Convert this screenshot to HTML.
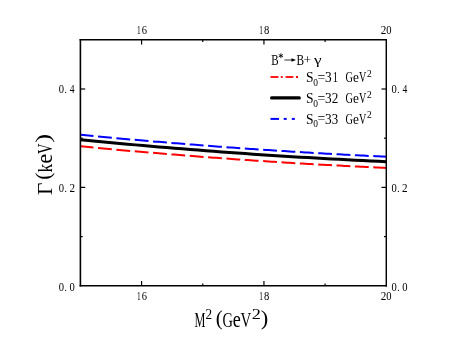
<!DOCTYPE html>
<html><head><meta charset="utf-8"><title>plot</title>
<style>
html,body{margin:0;padding:0;background:#fff;overflow:hidden;}
svg{display:block;will-change:transform;}
text{font-family:"Liberation Serif",serif;}
</style></head>
<body>
<svg width="449" height="343" viewBox="0 0 449 343">
<rect width="449" height="343" fill="#fff"/>
<path d="M81.00,146.37 L83.49,146.61 L85.98,146.84 L88.47,147.08 L90.96,147.32 L93.45,147.55 M98.00,147.98 L100.76,148.24 L103.52,148.49 L106.28,148.75 L109.04,149.00 L111.80,149.26 M116.35,149.67 L119.11,149.92 L121.87,150.17 L124.63,150.41 L127.39,150.66 L130.15,150.90 M134.70,151.30 L137.46,151.54 L140.22,151.78 L142.98,152.02 L145.74,152.25 L148.50,152.49 M153.05,152.87 L155.81,153.11 L158.57,153.34 L161.33,153.57 L164.09,153.79 L166.85,154.02 M171.40,154.39 L174.16,154.61 L176.92,154.84 L179.68,155.06 L182.44,155.28 L185.20,155.49 M189.75,155.85 L192.51,156.07 L195.27,156.28 L198.03,156.49 L200.79,156.70 L203.55,156.91 M208.10,157.25 L210.86,157.46 L213.62,157.66 L216.38,157.87 L219.14,158.07 L221.90,158.27 M226.45,158.60 L229.21,158.80 L231.97,158.99 L234.73,159.19 L237.49,159.38 L240.25,159.57 M244.80,159.89 L247.56,160.08 L250.32,160.27 L253.08,160.45 L255.84,160.64 L258.60,160.82 M263.15,161.12 L265.91,161.30 L268.67,161.48 L271.43,161.66 L274.19,161.83 L276.95,162.01 M281.50,162.30 L284.26,162.47 L287.02,162.64 L289.78,162.81 L292.54,162.97 L295.30,163.14 M299.85,163.41 L302.61,163.58 L305.37,163.74 L308.13,163.90 L310.89,164.06 L313.65,164.22 M318.20,164.47 L320.96,164.63 L323.72,164.78 L326.48,164.93 L329.24,165.09 L332.00,165.23 M336.55,165.48 L339.31,165.62 L342.07,165.77 L344.83,165.91 L347.59,166.05 L350.35,166.20 M354.90,166.43 L357.66,166.56 L360.42,166.70 L363.18,166.83 L365.94,166.97 L368.70,167.10 M373.25,167.32 L375.86,167.44 L378.47,167.56 L381.08,167.68 L383.69,167.80 L386.30,167.91" fill="none" stroke="#ff0000" stroke-width="2.0"/>
<path d="M81.00,134.85 L83.49,135.09 L85.98,135.33 L88.47,135.57 L90.96,135.81 L93.45,136.04 M98.00,136.47 L100.76,136.73 L103.52,136.99 L106.28,137.24 L109.04,137.50 L111.80,137.75 M116.35,138.17 L119.11,138.42 L121.87,138.67 L124.63,138.91 L127.39,139.16 L130.15,139.41 M134.70,139.81 L137.46,140.05 L140.22,140.29 L142.98,140.53 L145.74,140.77 L148.50,141.01 M153.05,141.39 L155.81,141.63 L158.57,141.86 L161.33,142.09 L164.09,142.32 L166.85,142.55 M171.40,142.92 L174.16,143.15 L176.92,143.37 L179.68,143.60 L182.44,143.82 L185.20,144.04 M189.75,144.40 L192.51,144.62 L195.27,144.83 L198.03,145.05 L200.79,145.26 L203.55,145.47 M208.10,145.82 L210.86,146.03 L213.62,146.24 L216.38,146.44 L219.14,146.65 L221.90,146.85 M226.45,147.18 L229.21,147.38 L231.97,147.58 L234.73,147.78 L237.49,147.98 L240.25,148.17 M244.80,148.49 L247.56,148.68 L250.32,148.88 L253.08,149.07 L255.84,149.25 L258.60,149.44 M263.15,149.75 L265.91,149.93 L268.67,150.11 L271.43,150.29 L274.19,150.47 L276.95,150.65 M281.50,150.94 L284.26,151.12 L287.02,151.29 L289.78,151.47 L292.54,151.64 L295.30,151.81 M299.85,152.09 L302.61,152.25 L305.37,152.42 L308.13,152.59 L310.89,152.75 L313.65,152.91 M318.20,153.18 L320.96,153.33 L323.72,153.49 L326.48,153.65 L329.24,153.80 L332.00,153.96 M336.55,154.21 L339.31,154.36 L342.07,154.51 L344.83,154.66 L347.59,154.80 L350.35,154.95 M354.90,155.18 L357.66,155.33 L360.42,155.47 L363.18,155.61 L365.94,155.75 L368.70,155.88 M373.25,156.11 L375.86,156.23 L378.47,156.36 L381.08,156.48 L383.69,156.61 L386.30,156.73" fill="none" stroke="#0000ff" stroke-width="2.0"/>
<path d="M80.40,139.70 L88.24,140.47 L96.09,141.23 L103.93,141.98 L111.77,142.72 L119.62,143.45 L127.46,144.17 L135.31,144.87 L143.15,145.57 L150.99,146.25 L158.84,146.92 L166.68,147.58 L174.52,148.24 L182.37,148.87 L190.21,149.50 L198.05,150.12 L205.90,150.73 L213.74,151.32 L221.58,151.91 L229.43,152.48 L237.27,153.04 L245.12,153.59 L252.96,154.13 L260.80,154.66 L268.65,155.18 L276.49,155.69 L284.33,156.19 L292.18,156.67 L300.02,157.14 L307.86,157.61 L315.71,158.06 L323.55,158.50 L331.39,158.93 L339.24,159.35 L347.08,159.76 L354.93,160.15 L362.77,160.54 L370.61,160.91 L378.46,161.28 L386.30,161.63" fill="none" stroke="#000000" stroke-width="3.0"/>
<line x1="80.40" y1="39.00" x2="80.40" y2="286.60" stroke="#000" stroke-width="1.6" stroke-linecap="butt"/>
<line x1="79.60" y1="39.80" x2="387.02" y2="39.80" stroke="#000" stroke-width="1.6" stroke-linecap="butt"/>
<line x1="386.30" y1="39.00" x2="386.30" y2="286.60" stroke="#000" stroke-width="1.45" stroke-linecap="butt"/>
<line x1="79.60" y1="285.80" x2="387.02" y2="285.80" stroke="#000" stroke-width="1.6" stroke-linecap="butt"/>
<line x1="141.58" y1="39.80" x2="141.58" y2="44.60" stroke="#000" stroke-width="1.2" stroke-linecap="butt"/>
<line x1="141.58" y1="285.80" x2="141.58" y2="281.00" stroke="#000" stroke-width="1.2" stroke-linecap="butt"/>
<line x1="263.94" y1="39.80" x2="263.94" y2="44.60" stroke="#000" stroke-width="1.2" stroke-linecap="butt"/>
<line x1="263.94" y1="285.80" x2="263.94" y2="281.00" stroke="#000" stroke-width="1.2" stroke-linecap="butt"/>
<line x1="202.76" y1="39.80" x2="202.76" y2="42.10" stroke="#000" stroke-width="1.2" stroke-linecap="butt"/>
<line x1="202.76" y1="285.80" x2="202.76" y2="283.50" stroke="#000" stroke-width="1.2" stroke-linecap="butt"/>
<line x1="325.12" y1="39.80" x2="325.12" y2="42.10" stroke="#000" stroke-width="1.2" stroke-linecap="butt"/>
<line x1="325.12" y1="285.80" x2="325.12" y2="283.50" stroke="#000" stroke-width="1.2" stroke-linecap="butt"/>
<line x1="80.40" y1="187.40" x2="85.20" y2="187.40" stroke="#000" stroke-width="1.2" stroke-linecap="butt"/>
<line x1="386.30" y1="187.40" x2="381.50" y2="187.40" stroke="#000" stroke-width="1.2" stroke-linecap="butt"/>
<line x1="80.40" y1="89.00" x2="85.20" y2="89.00" stroke="#000" stroke-width="1.2" stroke-linecap="butt"/>
<line x1="386.30" y1="89.00" x2="381.50" y2="89.00" stroke="#000" stroke-width="1.2" stroke-linecap="butt"/>
<line x1="80.40" y1="236.60" x2="82.70" y2="236.60" stroke="#000" stroke-width="1.2" stroke-linecap="butt"/>
<line x1="386.30" y1="236.60" x2="384.00" y2="236.60" stroke="#000" stroke-width="1.2" stroke-linecap="butt"/>
<line x1="80.40" y1="138.20" x2="82.70" y2="138.20" stroke="#000" stroke-width="1.2" stroke-linecap="butt"/>
<line x1="386.30" y1="138.20" x2="384.00" y2="138.20" stroke="#000" stroke-width="1.2" stroke-linecap="butt"/>
<text transform="translate(58.85,290.50) scale(0.9438,1.0741)" font-size="11.2" fill="#000">0</text>
<text transform="translate(64.35,290.50) scale(0.9823,1.0000)" font-size="11.2" fill="#000">.</text>
<text transform="translate(69.51,290.50) scale(0.9438,1.0741)" font-size="11.2" fill="#000">0</text>
<text transform="translate(391.55,290.50) scale(0.9438,1.0741)" font-size="11.2" fill="#000">0</text>
<text transform="translate(397.05,290.50) scale(0.9823,1.0000)" font-size="11.2" fill="#000">.</text>
<text transform="translate(402.21,290.50) scale(0.9438,1.0741)" font-size="11.2" fill="#000">0</text>
<text transform="translate(58.85,191.70) scale(0.9438,1.0741)" font-size="11.2" fill="#000">0</text>
<text transform="translate(64.35,191.70) scale(0.9823,1.0000)" font-size="11.2" fill="#000">.</text>
<text transform="translate(69.42,191.70) scale(0.9978,1.0788)" font-size="11.2" fill="#000">2</text>
<text transform="translate(391.55,191.70) scale(0.9438,1.0741)" font-size="11.2" fill="#000">0</text>
<text transform="translate(397.05,191.70) scale(0.9823,1.0000)" font-size="11.2" fill="#000">.</text>
<text transform="translate(402.12,191.70) scale(0.9978,1.0788)" font-size="11.2" fill="#000">2</text>
<text transform="translate(58.85,92.60) scale(0.9438,1.0741)" font-size="11.2" fill="#000">0</text>
<text transform="translate(64.35,92.60) scale(0.9823,1.0000)" font-size="11.2" fill="#000">.</text>
<text transform="translate(69.72,92.60) scale(0.8605,1.0852)" font-size="11.2" fill="#000">4</text>
<text transform="translate(391.55,92.60) scale(0.9438,1.0741)" font-size="11.2" fill="#000">0</text>
<text transform="translate(397.05,92.60) scale(0.9823,1.0000)" font-size="11.2" fill="#000">.</text>
<text transform="translate(402.42,92.60) scale(0.8605,1.0852)" font-size="11.2" fill="#000">4</text>
<text transform="translate(136.92,33.60) scale(0.6594,1.0820)" font-size="11.2" fill="#000">1</text>
<text transform="translate(141.70,33.60) scale(0.9362,1.0788)" font-size="11.2" fill="#000">6</text>
<text transform="translate(136.92,299.80) scale(0.6594,1.0820)" font-size="11.2" fill="#000">1</text>
<text transform="translate(141.70,299.80) scale(0.9362,1.0788)" font-size="11.2" fill="#000">6</text>
<text transform="translate(259.22,33.60) scale(0.6594,1.0820)" font-size="11.2" fill="#000">1</text>
<text transform="translate(264.05,33.60) scale(0.9438,1.0741)" font-size="11.2" fill="#000">8</text>
<text transform="translate(259.22,299.80) scale(0.6594,1.0820)" font-size="11.2" fill="#000">1</text>
<text transform="translate(264.05,299.80) scale(0.9438,1.0741)" font-size="11.2" fill="#000">8</text>
<text transform="translate(380.73,33.60) scale(0.9978,1.0788)" font-size="11.2" fill="#000">2</text>
<text transform="translate(386.15,33.60) scale(0.9438,1.0741)" font-size="11.2" fill="#000">0</text>
<text transform="translate(380.73,299.80) scale(0.9978,1.0788)" font-size="11.2" fill="#000">2</text>
<text transform="translate(386.15,299.80) scale(0.9438,1.0741)" font-size="11.2" fill="#000">0</text>
<text transform="translate(194.55,326.90) scale(0.5630,1.0000)" font-size="21.8" fill="#000">M</text>
<text transform="translate(205.42,318.60) scale(0.8698,1.0135)" font-size="15.2" fill="#000">2</text>
<text transform="translate(215.68,324.59) scale(0.9645,0.9511)" font-size="21.8" fill="#000">(</text>
<text transform="translate(222.51,326.90) scale(0.6635,1.0000)" font-size="21.8" fill="#000">G</text>
<text transform="translate(232.69,326.90) scale(0.8304,1.0319)" font-size="21.8" fill="#000">e</text>
<text transform="translate(240.43,326.90) scale(0.6818,1.0000)" font-size="21.8" fill="#000">V</text>
<text transform="translate(251.80,318.60) scale(1.1980,1.0135)" font-size="15.2" fill="#000">2</text>
<text transform="translate(260.87,324.59) scale(1.0359,0.9511)" font-size="21.8" fill="#000">)</text>
<g transform="translate(52.2,195) rotate(-90)">
<text transform="translate(-0.12,0.00) scale(0.9847,1.0000)" font-size="21.8" fill="#000">Γ</text>
<text transform="translate(15.24,-2.66) scale(1.0002,0.9612)" font-size="21.8" fill="#000">(</text>
<text transform="translate(22.47,0.00) scale(0.8012,1.0000)" font-size="21.8" fill="#000">k</text>
<text transform="translate(31.31,0.00) scale(1.0411,1.0319)" font-size="21.8" fill="#000">e</text>
<text transform="translate(41.04,0.00) scale(0.6687,1.0000)" font-size="21.8" fill="#000">V</text>
<text transform="translate(52.25,-2.61) scale(1.2145,0.9511)" font-size="21.8" fill="#000">)</text>
</g>
<text transform="translate(271.18,65.00) scale(0.7878,1.0000)" font-size="14.0" fill="#000">B</text>
<path d="M280.85,53.3 V58.1 M278.7,54.5 L283.0,56.9 M283.0,54.5 L278.7,56.9" stroke="#000" stroke-width="0.85" fill="none"/>
<path d="M284.4,60.0 H292.6" stroke="#000" stroke-width="0.8" fill="none"/>
<path d="M296.0,60.0 L291.5,58.2 L291.5,61.8 Z" fill="#000"/>
<text transform="translate(296.57,65.00) scale(0.8120,1.0000)" font-size="14.0" fill="#000">B</text>
<text transform="translate(303.53,64.40) scale(0.9671,0.9354)" font-size="14.0" fill="#000">+</text>
<text transform="translate(313.93,63.78) scale(1.1811,0.9136)" font-size="14.5" fill="#000">γ</text>
<line x1="270.50" y1="77.00" x2="278.40" y2="77.00" stroke="#ff0000" stroke-width="1.8" stroke-linecap="butt"/>
<line x1="280.80" y1="77.00" x2="282.80" y2="77.00" stroke="#ff0000" stroke-width="1.8" stroke-linecap="butt"/>
<line x1="285.60" y1="77.00" x2="293.40" y2="77.00" stroke="#ff0000" stroke-width="1.8" stroke-linecap="butt"/>
<line x1="296.00" y1="77.00" x2="298.00" y2="77.00" stroke="#ff0000" stroke-width="1.8" stroke-linecap="butt"/>
<text transform="translate(305.89,82.00) scale(0.9298,1.0000)" font-size="14.6" fill="#000">S</text>
<text transform="translate(313.24,85.60) scale(0.8904,1.0000)" font-size="10.6" fill="#000">0</text>
<text transform="translate(317.52,81.68) scale(0.9420,0.9863)" font-size="14.6" fill="#000">=</text>
<text transform="translate(324.96,82.00) scale(0.9119,1.0000)" font-size="14.6" fill="#000">3</text>
<text transform="translate(332.68,82.00) scale(0.7199,1.0000)" font-size="14.6" fill="#000">1</text>
<text transform="translate(345.48,82.00) scale(0.7061,1.0000)" font-size="14.6" fill="#000">G</text>
<text transform="translate(352.98,82.00) scale(0.9068,1.0000)" font-size="14.6" fill="#000">e</text>
<text transform="translate(358.99,82.00) scale(0.6950,1.0000)" font-size="14.6" fill="#000">V</text>
<text transform="translate(366.88,76.60) scale(0.9479,1.0000)" font-size="10.0" fill="#000">2</text>
<line x1="271.60" y1="97.90" x2="299.30" y2="97.90" stroke="#000" stroke-width="3.2" stroke-linecap="round"/>
<text transform="translate(305.89,102.90) scale(0.9298,1.0000)" font-size="14.6" fill="#000">S</text>
<text transform="translate(313.24,106.50) scale(0.8904,1.0000)" font-size="10.6" fill="#000">0</text>
<text transform="translate(317.52,102.58) scale(0.9420,0.9863)" font-size="14.6" fill="#000">=</text>
<text transform="translate(324.96,102.90) scale(0.9119,1.0000)" font-size="14.6" fill="#000">3</text>
<text transform="translate(331.82,102.90) scale(0.9055,1.0000)" font-size="14.6" fill="#000">2</text>
<text transform="translate(345.48,102.90) scale(0.7061,1.0000)" font-size="14.6" fill="#000">G</text>
<text transform="translate(352.98,102.90) scale(0.9068,1.0000)" font-size="14.6" fill="#000">e</text>
<text transform="translate(358.99,102.90) scale(0.6950,1.0000)" font-size="14.6" fill="#000">V</text>
<text transform="translate(366.88,97.50) scale(0.9479,1.0000)" font-size="10.0" fill="#000">2</text>
<line x1="270.50" y1="118.90" x2="279.00" y2="118.90" stroke="#0000ff" stroke-width="2.0" stroke-linecap="butt"/>
<line x1="283.70" y1="118.90" x2="286.70" y2="118.90" stroke="#0000ff" stroke-width="2.0" stroke-linecap="butt"/>
<line x1="291.80" y1="118.90" x2="294.80" y2="118.90" stroke="#0000ff" stroke-width="2.0" stroke-linecap="butt"/>
<text transform="translate(305.89,123.60) scale(0.9298,1.0000)" font-size="14.6" fill="#000">S</text>
<text transform="translate(313.24,127.20) scale(0.8904,1.0000)" font-size="10.6" fill="#000">0</text>
<text transform="translate(317.52,123.28) scale(0.9420,0.9863)" font-size="14.6" fill="#000">=</text>
<text transform="translate(324.96,123.60) scale(0.9119,1.0000)" font-size="14.6" fill="#000">3</text>
<text transform="translate(331.79,123.60) scale(0.8788,1.0000)" font-size="14.6" fill="#000">3</text>
<text transform="translate(345.48,123.60) scale(0.7061,1.0000)" font-size="14.6" fill="#000">G</text>
<text transform="translate(352.98,123.60) scale(0.9068,1.0000)" font-size="14.6" fill="#000">e</text>
<text transform="translate(358.99,123.60) scale(0.6950,1.0000)" font-size="14.6" fill="#000">V</text>
<text transform="translate(366.88,118.20) scale(0.9479,1.0000)" font-size="10.0" fill="#000">2</text>
</svg>
</body></html>
